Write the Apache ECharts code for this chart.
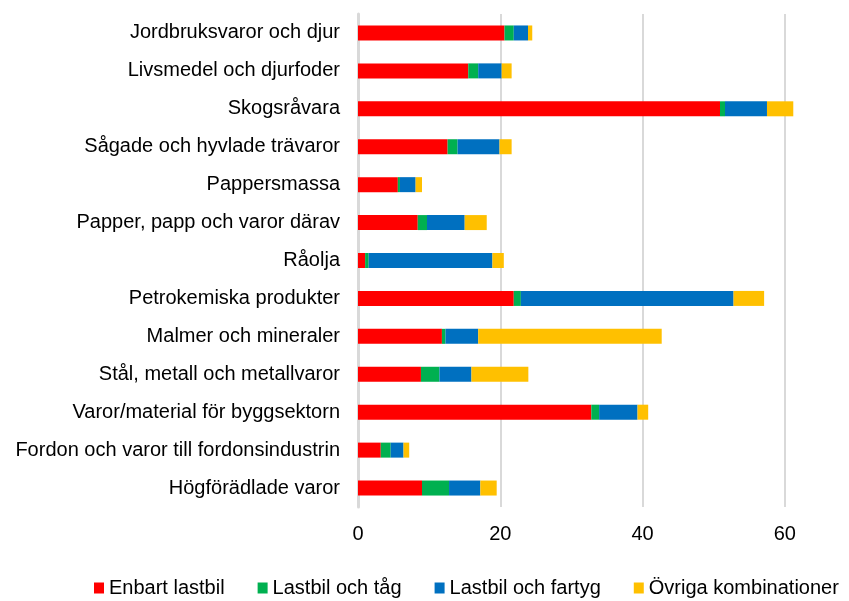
<!DOCTYPE html>
<html>
<head>
<meta charset="utf-8">
<script src="https://cdn.jsdelivr.net/npm/echarts@6/dist/echarts.min.js"></script>
<style>
  html, body { margin: 0; padding: 0; background: #fff; }
  #main { width: 849px; height: 601px; }
</style>
</head>
<body>
<div id="main"></div>
<script>
// kategorier (uppifrån och ned)
var categories = [
    "Jordbruksvaror och djur",
    "Livsmedel och djurfoder",
    "Skogsråvara",
    "Sågade och hyvlade trävaror",
    "Pappersmassa",
    "Papper, papp och varor därav",
    "Råolja",
    "Petrokemiska produkter",
    "Malmer och mineraler",
    "Stål, metall och metallvaror",
    "Varor/material för byggsektorn",
    "Fordon och varor till fordonsindustrin",
    "Högförädlade varor"
];
var seriesNames = ["Enbart lastbil", "Lastbil och tåg", "Lastbil och fartyg", "Övriga kombinationer"];
var enbartLastbil = [20.6, 15.5, 50.9, 12.6, 5.6, 8.4, 1.0, 21.9, 11.8, 8.85, 32.8, 3.2, 9.0];
var lastbilTag    = [1.3, 1.4, 0.7, 1.4, 0.3, 1.3, 0.5, 1.0, 0.5, 2.6, 1.1, 1.4, 3.8];
var lastbilFartyg = [2.0, 3.3, 5.9, 5.9, 2.2, 5.3, 17.4, 29.9, 4.6, 4.5, 5.4, 1.8, 4.4];
var ovriga        = [0.6, 1.4, 3.7, 1.7, 0.9, 3.1, 1.6, 4.3, 25.8, 8.0, 1.5, 0.8, 2.3];
var xTicks = [0, 20, 40, 60, 80];

var colors = ["#FF0000", "#00B050", "#0070C0", "#FFC000"];
var values = [enbartLastbil, lastbilTag, lastbilFartyg, ovriga];

var myChart = echarts.init(document.getElementById("main"));

var series = [];
for (var i = 0; i < seriesNames.length; i++) {
    series.push({
        name: seriesNames[i],
        type: "bar",
        stack: "total",
        barWidth: 15,
        itemStyle: { color: colors[i] },
        data: values[i]
    });
}

var option = {
    animation: false,
    textStyle: { fontFamily: "Liberation Sans, Arial, sans-serif" },
    color: colors,
    // skalan går till 80 men griden fortsätter utanför bilden, som i originalet
    grid: { left: 358, top: 14, height: 493, width: 569, containLabel: false, outerBoundsMode: "none" },
    legend: {
        left: 94,
        top: 578,
        padding: 0,
        itemWidth: 10,
        itemHeight: 11,
        itemGap: 33,
        icon: "rect",
        textStyle: { fontSize: 20, color: "#000", fontFamily: "Liberation Sans, Arial, sans-serif" },
        data: seriesNames
    },
    xAxis: {
        type: "value",
        min: xTicks[0],
        max: xTicks[xTicks.length - 1],
        interval: 20,
        axisLine: { show: false },
        axisTick: { show: false },
        axisLabel: { fontSize: 20, color: "#000", margin: 17 },
        splitLine: { lineStyle: { color: "#d9d9d9", width: 2 } }
    },
    yAxis: {
        type: "category",
        inverse: true,
        data: categories,
        axisLine: { lineStyle: { color: "#d9d9d9", width: 3 } },
        axisTick: { show: false },
        axisLabel: { fontSize: 20, color: "#000", margin: 18 }
    },
    series: series
};

myChart.setOption(option);
</script>
</body>
</html>
